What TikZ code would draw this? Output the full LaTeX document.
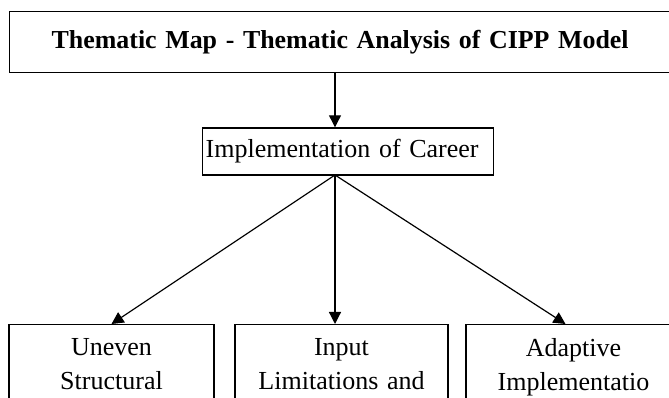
\documentclass[tikz,border=0pt]{standalone}
\usepackage{fontspec}
\setmainfont{Liberation Serif}
\usetikzlibrary{positioning, arrows.meta}

\begin{document}
\begin{tikzpicture}[x=1pt, y=1pt,
    box/.style={draw, line width=1.4pt, inner ysep=0pt, align=left},
    lowbox/.style={draw, line width=1.4pt, anchor=north, inner xsep=0pt,
        align=center, inner ysep=14pt, text depth=60pt, font=\fontsize{26}{34}\selectfont},
    link/.style={line width=1.2pt, -{Triangle[length=12pt, width=12pt]}}]

    % Frame of the page
    \useasboundingbox (0,0) rectangle (669,398);
    \clip (0,0) rectangle (669,398);

    % Title box
    \node[box, anchor=west, inner xsep=42pt, text width=640pt, minimum height=61pt,
          font=\fontsize{25.9}{30}\selectfont\bfseries] (title) at (9,356)
         {Thematic Map - Thematic Analysis of CIPP Model};

    % Main theme
    \node[box, anchor=west, inner xsep=3pt, text width=285pt, minimum height=47pt,
          font=\fontsize{26}{30}\selectfont] (impl) at (202,246.5)
         {Implementation of Career};

    % Sub-themes
    \node[lowbox, text width=205pt] (uneven) at (111.5,74) {Uneven\\Structural};
    \node[lowbox, text width=213pt] (input) at (341.5,74) {Input\\Limitations and};
    \node[lowbox, text width=215pt] (adapt) at (573.5,74) {Adaptive\\Implementatio};

    % Connectors
    \coordinate (hub) at (335,223);
    \draw[link] (title.south -| hub) -- (impl.north -| hub);
    \draw[link] (hub) -- (uneven.north);
    \draw[link] (hub) -- (hub |- input.north);
    \draw[link] (hub) -- ([xshift=-8pt]adapt.north);

\end{tikzpicture}
\end{document}
